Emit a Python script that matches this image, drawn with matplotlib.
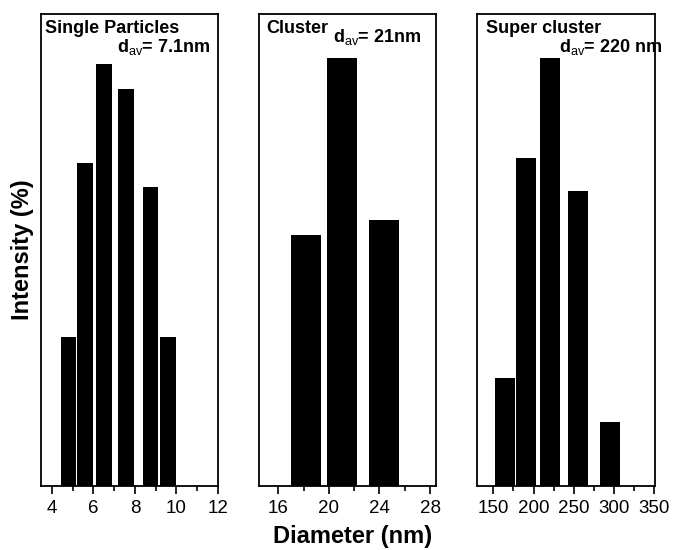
import matplotlib
matplotlib.use("Agg")
import matplotlib.pyplot as plt
from matplotlib.ticker import MultipleLocator

plt.rcParams['font.family'] = ['Liberation Sans', 'DejaVu Sans']
plt.rcParams['mathtext.fontset'] = 'custom'
plt.rcParams['mathtext.rm'] = 'Liberation Sans'
plt.rcParams['mathtext.bf'] = 'Liberation Sans:bold'
plt.rcParams['mathtext.it'] = 'Liberation Sans:italic'

# Data
single_d = [4.8, 5.6, 6.5, 7.55, 8.75, 9.6]
single_i = [31.6, 68.4, 89.4, 84.2, 63.3, 31.6]
cluster_d = [18.2, 21.04, 24.37]
cluster_i = [53.2, 90.7, 56.4]
super_d = [164.3, 190.4, 220.5, 255.2, 295.3]
super_i = [22.8, 69.4, 90.7, 62.4, 13.6]

single_ticks = [4, 6, 8, 10, 12]
cluster_ticks = [16, 20, 24, 28]
super_ticks = [150, 200, 250, 300, 350]

fig = plt.figure(figsize=(6.74, 5.5), dpi=100)


def fx(x):
    return x / 674


def fy(y):
    return 1 - y / 550


bottom = fy(485.7)
height = fy(14) - bottom

panels = [
    dict(left=41, right=218, d=single_d, v=single_i, w=0.76, xlim=(3.47, 12.0),
         ticks=single_ticks, minor=1),
    dict(left=259, right=436, d=cluster_d, v=cluster_i, w=2.42, xlim=(14.47, 28.47),
         ticks=cluster_ticks, minor=2),
    dict(left=477.3, right=655, d=super_d, v=super_i, w=25.3, xlim=(130, 351),
         ticks=super_ticks, minor=25),
]

for p in panels:
    ax = fig.add_axes([fx(p['left']), bottom, fx(p['right'] - p['left']), height])
    ax.bar(p['d'], p['v'], width=p['w'], color='black', edgecolor='black', linewidth=0)
    ax.set_xlim(*p['xlim'])
    ax.set_ylim(0, 100)
    ax.set_yticks([])
    ax.set_xticks(p['ticks'])
    ax.xaxis.set_minor_locator(MultipleLocator(p['minor']))
    ax.tick_params(axis='x', which='major', direction='out', length=6, width=1.2,
                   labelsize=13.5, pad=4.5)
    ax.tick_params(axis='x', which='minor', direction='out', length=3.6, width=1.2)
    for s in ax.spines.values():
        s.set_linewidth(1.3)

tk = dict(fontsize=13, fontweight='bold', transform=fig.transFigure, va='baseline')
dav = r"$\mathbf{d}_{\mathrm{av}}$= "

fig.text(fx(45), fy(33.3), "Single Particles", ha='left', **tk)
fig.text(fx(211), fy(51.7), dav + "7.1nm", ha='right', **tk)

fig.text(fx(266.5), fy(33.3), "Cluster", ha='left', **tk)
fig.text(fx(333), fy(41.7), dav + "21nm", ha='left', **tk)

fig.text(fx(486.5), fy(33.3), "Super cluster", ha='left', **tk)
fig.text(fx(663), fy(51.7), dav + "220 nm", ha='right', **tk)

fig.text(fx(353), fy(543), "Diameter (nm)", ha='center', va='baseline',
         fontsize=17, fontweight='bold')
fig.text(fx(22.5), fy(250), "Intensity (%)", ha='center', va='center', rotation=90,
         fontsize=17, fontweight='bold')

fig.savefig("out.png", dpi=100)
